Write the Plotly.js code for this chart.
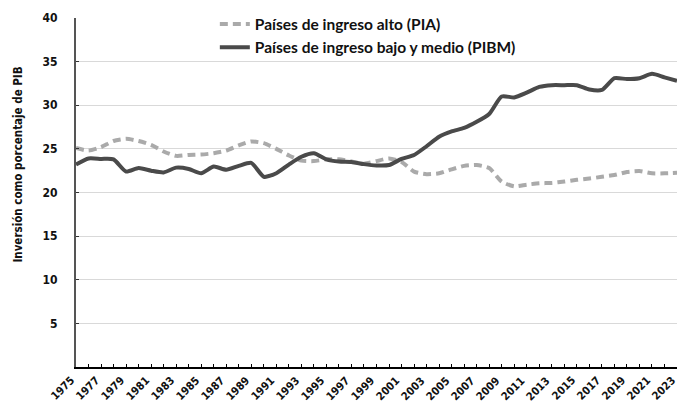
<!DOCTYPE html>
<html>
<head>
<meta charset="utf-8">
<script src="https://cdn.plot.ly/plotly-3.0.1.min.js"></script>
<style>html,body{margin:0;padding:0;background:#fff;}#chart{width:677px;height:402px;}</style>
</head>
<body>
<div id="chart"></div>
<script>
const years = [1975,1976,1977,1978,1979,1980,1981,1982,1983,1984,1985,1986,1987,1988,1989,1990,1991,1992,1993,1994,1995,1996,1997,1998,1999,2000,2001,2002,2003,2004,2005,2006,2007,2008,2009,2010,2011,2012,2013,2014,2015,2016,2017,2018,2019,2020,2021,2022,2023];
const pia = [25.1,24.8,25.2,25.9,26.15,25.9,25.45,24.7,24.2,24.3,24.35,24.5,24.8,25.4,25.85,25.65,25.0,24.25,23.65,23.6,23.8,23.8,23.55,23.3,23.6,23.9,23.5,22.4,22.1,22.2,22.65,23.05,23.15,22.8,21.25,20.7,20.9,21.05,21.1,21.25,21.45,21.6,21.8,22.0,22.35,22.45,22.2,22.2,22.25];
const pibm = [23.2,23.9,23.85,23.8,22.4,22.8,22.5,22.3,22.85,22.7,22.2,22.97,22.6,23.05,23.4,21.8,22.2,23.2,24.1,24.5,23.8,23.55,23.5,23.25,23.1,23.15,23.85,24.3,25.3,26.4,27.0,27.4,28.1,29.0,31.0,30.9,31.45,32.1,32.3,32.3,32.3,31.8,31.75,33.1,33.0,33.1,33.6,33.2,32.8];
const labelYears = [1975,1977,1979,1981,1983,1985,1987,1989,1991,1993,1995,1997,1999,2001,2003,2005,2007,2009,2011,2013,2015,2017,2019,2021,2023];
const nameA = "Países de ingreso alto (PIA)";
const nameB = "Países de ingreso bajo y medio (PIBM)";
const yTicks = [5,10,15,20,25,30,35,40];
const yTitle = "Inversión como porcentaje de PIB";

const narrow = "'Liberation Sans Narrow', 'DejaVu Sans Condensed', Roboto, sans-serif";
const traces = [
  {x: years, y: pia, name: nameA, type: 'scatter', mode: 'lines',
   line: {color: '#aaaaaa', width: 4, dash: '8px,5px', shape: 'spline', smoothing: 0.6}},
  {x: years, y: pibm, name: nameB, type: 'scatter', mode: 'lines',
   line: {color: '#4a4a4a', width: 4, shape: 'spline', smoothing: 0.6}}
];
const xLabelAnns = labelYears.map(y => ({
  text: String(y), xref: 'x', yref: 'paper', x: y, y: 0, xshift: 4, yshift: -4,
  textangle: -45, xanchor: 'right', yanchor: 'top', showarrow: false,
  font: {family: narrow, size: 11, color: '#111', weight: 'bold'}
}));
const layout = {
  width: 677, height: 402,
  margin: {l: 76, r: 0, t: 18, b: 35, pad: 0},
  paper_bgcolor: '#fff', plot_bgcolor: '#fff',
  showlegend: true,
  legend: {x: 0.231, y: 1.03, xanchor: 'left', yanchor: 'top', bgcolor: 'rgba(0,0,0,0)',
           font: {family: 'Lato, sans-serif', size: 15.5, color: '#111', weight: 'bold'},
           itemwidth: 30, tracegroupgap: 0},
  xaxis: {range: [1975, 2023], tickmode: 'array', tickvals: years, showticklabels: false,
          ticks: 'inside', ticklen: 3, tickcolor: '#000',
          showgrid: false, zeroline: false, showline: true, linecolor: '#000', linewidth: 1.5,
          automargin: false, fixedrange: true},
  yaxis: {range: [0, 40], tickvals: yTicks, ticks: 'inside', ticklen: 3, tickcolor: '#333',
          showgrid: true, gridcolor: '#d9d9d9', gridwidth: 1, zeroline: false,
          showline: true, linecolor: '#555', linewidth: 2, ticklabelstandoff: 14,
          tickfont: {family: narrow, size: 12, color: '#111', weight: 'bold'}, automargin: false, fixedrange: true},
  shapes: [
    {type: 'rect', layer: 'between', xref: 'paper', yref: 'y', x0: 0.211, x1: 0.852, y0: 39.6, y1: 40.4,
     fillcolor: '#fff', line: {width: 0}},
    {type: 'rect', layer: 'between', xref: 'paper', yref: 'y', x0: 0.294, x1: 0.852, y0: 34.6, y1: 35.4,
     fillcolor: '#fff', line: {width: 0}}
  ],
  annotations: [{text: yTitle, xref: 'paper', yref: 'paper', x: -0.0965, y: 0.58, textangle: -90,
                 showarrow: false, xanchor: 'center', yanchor: 'middle',
                 font: {family: narrow, size: 11.5, color: '#111', weight: 'bold'}}].concat(xLabelAnns)
};
Plotly.newPlot('chart', traces, layout, {displayModeBar: false, staticPlot: true});
</script>
</body>
</html>
